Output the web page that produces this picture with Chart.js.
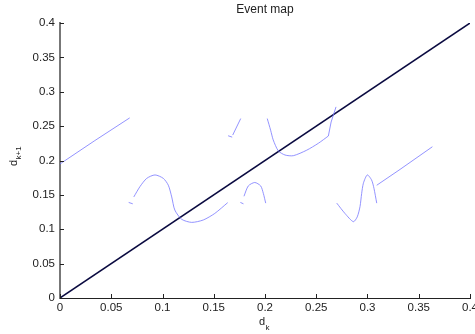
<!DOCTYPE html>
<html>
<head>
<meta charset="utf-8">
<script src="https://cdn.jsdelivr.net/npm/chart.js@4.4.0/dist/chart.umd.min.js"></script>
<style>html,body{margin:0;padding:0;background:#fff;}canvas{display:block;}</style>
</head>
<body>
<canvas id="c" width="475" height="334"></canvas>
<script>
// ---- data ----
const xTickValues = [0, 0.05, 0.1, 0.15, 0.2, 0.25, 0.3, 0.35, 0.4];
const xTickLabels = ['0', '0.05', '0.1', '0.15', '0.2', '0.25', '0.3', '0.35', '0.4'];
const yTickValues = [0, 0.05, 0.1, 0.15, 0.2, 0.25, 0.3, 0.35, 0.4];
const yTickLabels = ['0', '0.05', '0.1', '0.15', '0.2', '0.25', '0.3', '0.35', '0.4'];

const diagX = [0, 0.4];
const diagY = [0, 0.4];

const lineAX = [0, 0.034, 0.068];
const lineAY = [0.195, 0.229, 0.262];

const stubBX = [0.067, 0.071];
const stubBY = [0.139, 0.137];

const curveCX = [0.072, 0.078, 0.0846, 0.0927, 0.1008, 0.1057, 0.109, 0.112, 0.1187, 0.1285, 0.1398, 0.151, 0.1636];
const curveCY = [0.147, 0.162, 0.174, 0.179, 0.174, 0.164, 0.147, 0.128, 0.1145, 0.110, 0.1135, 0.123, 0.1387];

const stubDX = [0.176, 0.179];
const stubDY = [0.139, 0.137];

const humpDX = [0.1795, 0.1837, 0.190, 0.1958, 0.1984, 0.2007];
const humpDY = [0.148, 0.163, 0.168, 0.163, 0.152, 0.138];

const stubEX = [0.164, 0.168];
const stubEY = [0.236, 0.234];

const riseEX = [0.1685, 0.1763];
const riseEY = [0.237, 0.261];

const curveFX = [0.2022, 0.2055, 0.208, 0.213, 0.2195, 0.2276, 0.2407, 0.252, 0.2618];
const curveFY = [0.261, 0.244, 0.230, 0.214, 0.208, 0.207, 0.215, 0.225, 0.2356];

const steepFX = [0.2618, 0.2645, 0.2693];
const steepFY = [0.2356, 0.256, 0.278];

const curveGX = [0.270, 0.278, 0.2862, 0.290, 0.2927, 0.2943, 0.296, 0.2998, 0.304, 0.3063, 0.309];
const curveGY = [0.138, 0.123, 0.111, 0.118, 0.133, 0.152, 0.167, 0.179, 0.1716, 0.1596, 0.138];

const lineHX = [0.309, 0.3317, 0.3633];
const lineHY = [0.164, 0.187, 0.220];

// ---- build ----
function pts(xs, ys) { return xs.map((v, i) => ({x: v, y: ys[i]})); }
const blue = 'rgba(120,120,255,0.8)';
function ds(xs, ys, color, w, t) {
  return {data: pts(xs, ys), showLine: true, borderColor: color, borderWidth: w,
          pointRadius: 0, pointHoverRadius: 0, fill: false, tension: t};
}
const FONT = '"Liberation Sans", Arial, sans-serif';

const extras = {
  id: 'extras',
  afterDraw(chart) {
    const {ctx, chartArea: a} = chart;
    const xs = chart.scales.x, ys = chart.scales.y;
    ctx.save();
    ctx.strokeStyle = '#222';
    ctx.lineWidth = 1;
    xTickValues.forEach(v => {
      const px = Math.round(xs.getPixelForValue(v)) + 0.5;
      ctx.beginPath(); ctx.moveTo(px, a.bottom); ctx.lineTo(px, a.bottom - 4); ctx.stroke();
    });
    yTickValues.forEach(v => {
      const py = Math.round(ys.getPixelForValue(v)) + 0.5;
      ctx.beginPath(); ctx.moveTo(a.left, py); ctx.lineTo(a.left + 4, py); ctx.stroke();
    });
    ctx.fillStyle = '#222';
    ctx.textBaseline = 'alphabetic';
    const cx = (a.left + a.right) / 2;
    ctx.font = '11px ' + FONT;
    ctx.textAlign = 'left';
    ctx.fillText('d', cx - 6, 325);
    ctx.font = '8px ' + FONT;
    ctx.fillText('k', cx + 0.5, 329.5);
    ctx.save();
    ctx.translate(17, 166);
    ctx.rotate(-Math.PI / 2);
    ctx.font = '11px ' + FONT;
    ctx.fillText('d', 0, 0);
    ctx.font = '8px ' + FONT;
    ctx.fillText('k+1', 6.5, 4);
    ctx.restore();
    ctx.restore();
  }
};

new Chart(document.getElementById('c'), {
  type: 'scatter',
  data: {
    datasets: [
      ds(lineAX, lineAY, blue, 1, 0),
      ds(stubBX, stubBY, blue, 1, 0),
      ds(curveCX, curveCY, blue, 1, 0.25),
      ds(stubDX, stubDY, blue, 1, 0),
      ds(humpDX, humpDY, blue, 1, 0.25),
      ds(stubEX, stubEY, blue, 1, 0),
      ds(riseEX, riseEY, blue, 1, 0),
      ds(curveFX, curveFY, blue, 1, 0.25),
      ds(steepFX, steepFY, blue, 1, 0),
      ds(curveGX, curveGY, blue, 1, 0.25),
      ds(lineHX, lineHY, blue, 1, 0),
      ds(diagX, diagY, '#0a0a40', 1.5, 0)
    ]
  },
  options: {
    responsive: false,
    animation: false,
    events: [],
    layout: {padding: {left: 0, right: 5, top: 0, bottom: 0}},
    plugins: {
      legend: {display: false},
      tooltip: {enabled: false},
      title: {
        display: true, text: 'Event map', fullSize: false, color: '#222',
        font: {family: FONT, size: 12, weight: 'normal', lineHeight: 1.2},
        padding: {top: 2.5, bottom: 6.1}
      }
    },
    scales: {
      x: {
        type: 'linear', min: 0, max: 0.4,
        afterBuildTicks: s => { s.ticks = xTickValues.map(v => ({value: v})); },
        afterFit: s => { s.height = 36; s.paddingLeft = 0; s.paddingRight = 0; },
        ticks: {
          padding: 3, color: '#222', maxRotation: 0, autoSkip: false,
          font: {family: FONT, size: 11.5},
          callback: (v, i) => xTickLabels[i]
        },
        grid: {display: true, drawOnChartArea: false, drawTicks: false},
        border: {display: true, color: '#222', width: 1}
      },
      y: {
        type: 'linear', min: 0, max: 0.4,
        afterBuildTicks: s => { s.ticks = yTickValues.map(v => ({value: v})); },
        afterFit: s => { s.width = 60; s.paddingTop = 0; s.paddingBottom = 0; },
        ticks: {
          padding: 5, color: '#222', autoSkip: false,
          font: {family: FONT, size: 11.5},
          callback: (v, i) => yTickLabels[i]
        },
        grid: {display: true, drawOnChartArea: false, drawTicks: false},
        border: {display: true, color: '#777', width: 2}
      }
    }
  },
  plugins: [extras]
});
</script>
</body>
</html>
